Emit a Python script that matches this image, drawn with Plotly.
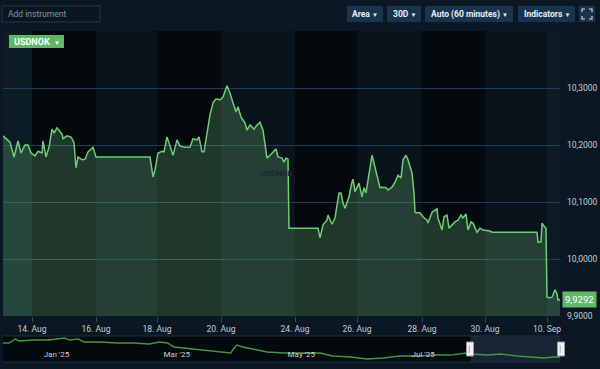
import plotly.graph_objects as go

# ---------------- data ----------------
# main series: ordinal position (hourly candles, weekends collapsed) and USDNOK price
t_main = [0, 7, 11, 15, 18, 22, 25, 28, 32, 35, 39, 40, 43, 46, 49, 51, 54, 59, 60, 64, 68, 71, 73, 75, 79, 82, 85, 90, 93,
          147, 150, 152, 155, 159, 161, 164, 165, 169, 170, 174, 177, 182, 187, 190, 194, 196, 199, 201, 204, 207, 210, 213,
          217, 220, 224, 227, 230, 233, 235, 238, 242, 244, 247, 251, 254, 257, 260, 262, 264, 267, 270, 273, 275, 279, 281,
          283, 285, 286, 315, 317, 320, 324, 325, 329, 332, 334, 336, 338, 340, 342, 346, 349, 350, 352, 354, 356, 359, 361,
          363, 365, 368, 369, 371, 374, 377, 380, 383, 385, 389, 392, 395, 398, 400, 403, 405, 409, 411, 412, 413, 417, 420,
          424, 425, 429, 432, 434, 435, 439, 441, 444, 446, 449, 452, 455, 458, 460, 463, 465, 468, 470, 474, 477, 480, 487,
          489, 534, 535, 538, 539, 541, 543, 544, 547, 549, 552, 554, 555, 557]
usdnok = [10.216, 10.205, 10.179, 10.207, 10.186, 10.200, 10.200, 10.186, 10.181, 10.189, 10.186, 10.207, 10.179, 10.196,
          10.228, 10.221, 10.230, 10.219, 10.211, 10.216, 10.214, 10.204, 10.160, 10.179, 10.174, 10.175, 10.188, 10.196,
          10.179, 10.179, 10.144, 10.156, 10.186, 10.189, 10.188, 10.214, 10.209, 10.186, 10.182, 10.209, 10.198, 10.196,
          10.196, 10.211, 10.209, 10.214, 10.188, 10.188, 10.223, 10.253, 10.274, 10.281, 10.279, 10.284, 10.304, 10.291,
          10.274, 10.258, 10.267, 10.249, 10.239, 10.226, 10.235, 10.228, 10.235, 10.240, 10.226, 10.205, 10.177, 10.182,
          10.188, 10.193, 10.179, 10.177, 10.170, 10.177, 10.175, 10.054, 10.054, 10.037, 10.060, 10.068, 10.077, 10.061,
          10.072, 10.095, 10.116, 10.116, 10.098, 10.089, 10.109, 10.135, 10.140, 10.118, 10.126, 10.133, 10.109, 10.125,
          10.116, 10.139, 10.179, 10.182, 10.168, 10.144, 10.125, 10.126, 10.125, 10.121, 10.126, 10.135, 10.147, 10.142,
          10.174, 10.182, 10.174, 10.151, 10.116, 10.082, 10.081, 10.081, 10.074, 10.068, 10.063, 10.082, 10.086, 10.088,
          10.072, 10.051, 10.074, 10.077, 10.054, 10.060, 10.065, 10.068, 10.077, 10.072, 10.079, 10.051, 10.065, 10.063,
          10.047, 10.054, 10.051, 10.049, 10.047, 10.047, 10.030, 10.030, 10.063, 10.058, 10.054, 9.933, 9.932, 9.933,
          9.946, 9.939, 9.928, 9.9292]
x_tick_pos = [29, 93, 154, 218, 292, 354, 419, 482, 544]
x_tick_labels = ["14. Aug", "16. Aug", "18. Aug", "20. Aug", "24. Aug", "26. Aug", "28. Aug", "30. Aug", "10. Sep"]
y_ticks = [9.9, 10.0, 10.1, 10.2, 10.3]

# navigator series (longer history)
nav_dates = ["2024-12-12", "2024-12-15", "2024-12-18", "2024-12-20", "2024-12-27", "2025-01-04", "2025-01-11",
             "2025-01-14", "2025-01-18", "2025-01-21", "2025-01-29", "2025-02-06", "2025-02-14", "2025-02-22",
             "2025-02-27", "2025-03-03", "2025-03-06", "2025-03-11", "2025-03-19", "2025-03-27", "2025-04-03",
             "2025-04-04", "2025-04-06", "2025-04-09", "2025-04-14", "2025-04-21", "2025-04-29", "2025-05-07",
             "2025-05-17", "2025-05-23", "2025-06-01", "2025-06-09", "2025-06-17", "2025-06-25", "2025-07-04",
             "2025-07-12", "2025-07-20", "2025-07-28", "2025-07-31", "2025-08-07", "2025-08-14", "2025-08-22",
             "2025-08-30", "2025-09-04", "2025-09-09", "2025-09-12"]
nav_values = [10.915, 10.915, 11.19, 11.05, 11.12, 11.12, 11.26, 11.12, 11.19, 10.98, 10.98, 10.915, 10.915, 10.85,
              10.98, 10.915, 10.64, 10.57, 10.43, 10.36, 10.22, 10.43, 10.78, 10.64, 10.50, 10.29, 10.22, 10.22,
              10.22, 10.015, 9.946, 9.81, 9.877, 10.015, 10.015, 10.08, 10.08, 10.22, 10.15, 10.08, 10.15, 10.015,
              9.946, 9.877, 9.946, 9.946]
nav_ticks = ["2025-01-01", "2025-03-01", "2025-05-01", "2025-07-01", "2025-09-01"]
nav_sel = ["2025-07-30", "2025-09-12"]

toolbar_buttons = ["Area", "30D", "Auto (60 minutes)", "Indicators"]

# ---------------- layout helpers ----------------
W, H = 600, 369
L, R, T, B = 3, 40, 31, 7
PW, PH = W - L - R, H - T - B


def px(x):
    return (x - L) / PW


def py(y):
    return (H - B - y) / PH


PAGE = "#0b1823"
PLOT = "#03090d"
MID = "#08131b"
EDGE = "#0b1c25"
BTN = "#19344f"
FONT = "Roboto"

fig = go.Figure()
fig.add_trace(go.Scatter(
    x=t_main, y=usdnok, mode="lines", line=dict(color="#70cc76", width=1.5),
    fill="tozeroy", fillcolor="rgba(120,200,130,0.25)", hoverinfo="skip",
    xaxis="x", yaxis="y"))
fig.add_trace(go.Scatter(
    x=nav_dates, y=nav_values, mode="lines", line=dict(color="#45944b", width=1.4),
    hoverinfo="skip", xaxis="x2", yaxis="y2"))

shapes = []
# vertical alternating bands in main plot
edges = [t_main[0]] + x_tick_pos + [t_main[-1]]
for i in range(len(edges) - 1):
    if i == 0 or i == len(edges) - 2:
        col = EDGE
    else:
        col = PLOT if i % 2 == 1 else MID
    shapes.append(dict(type="rect", xref="x", yref="y domain", x0=edges[i], x1=edges[i + 1], y0=0, y1=1,
                       fillcolor=col, line_width=0, layer="below"))

# navigator frame and selection
shapes.append(dict(type="rect", xref="x2", yref="y2 domain", x0=nav_sel[0], x1=nav_sel[1], y0=0, y1=1,
                   fillcolor="rgba(50,75,98,0.45)", line_width=0, layer="below"))
for yy in (0, 1):
    shapes.append(dict(type="line", xref="paper", yref="y2 domain", x0=0, x1=1, y0=yy, y1=yy,
                       line=dict(color="#1c3244", width=1)))
for hx in (px(470), px(561)):
    shapes.append(dict(type="rect", xref="paper", yref="paper", x0=hx - 3.5 / PW, x1=hx + 3.5 / PW,
                       y0=py(356), y1=py(342), fillcolor="#f2f2f2", line=dict(color="#999999", width=1)))
    shapes.append(dict(type="line", xref="paper", yref="paper", x0=hx - 0.8 / PW, x1=hx - 0.8 / PW,
                       y0=py(353), y1=py(345), line=dict(color="#aaaaaa", width=1)))

# toolbar: input box
shapes.append(dict(type="rect", xref="paper", yref="paper", x0=px(2), x1=px(100), y0=py(22), y1=py(6),
                   fillcolor="#0a1620", line=dict(color="#22394d", width=1)))

annotations = [
    dict(x=px(6), y=py(14), xref="paper", yref="paper", text="Add instrument", showarrow=False,
         xanchor="left", yanchor="middle", font=dict(family=FONT, size=8.5, color="#8393a2")),
]

btn_bounds = [(347, 383), (387, 421), (425, 513), (518, 575)]
for label, (x0, x1) in zip(toolbar_buttons, btn_bounds):
    shapes.append(dict(type="rect", xref="paper", yref="paper", x0=px(x0), x1=px(x1), y0=py(22), y1=py(6),
                       fillcolor=BTN, line_width=0))
    annotations.append(dict(x=px((x0 + x1) / 2), y=py(14), xref="paper", yref="paper",
                            xanchor="center", yanchor="middle",
                            text=f"<b>{label}</b> <span style='font-size:6px'>▼</span>", showarrow=False,
                            font=dict(family=FONT, size=8.5, color="#e8eef4")))

# fullscreen button
shapes.append(dict(type="rect", xref="paper", yref="paper", x0=px(579), x1=px(595), y0=py(22), y1=py(6),
                   fillcolor=BTN, line_width=0))
for (cx, cy, dx, dy) in [(582, 9, 1, 1), (592, 9, -1, 1), (582, 19, 1, -1), (592, 19, -1, -1)]:
    path = (f"M {px(cx + 3 * dx)} {py(cy)} L {px(cx)} {py(cy)} L {px(cx)} {py(cy + 3 * dy)}")
    shapes.append(dict(type="path", xref="paper", yref="paper", path=path,
                       line=dict(color="#d0d8e0", width=1.2)))

# instrument tag
shapes.append(dict(type="rect", xref="paper", yref="paper", x0=px(9), x1=px(64), y0=py(48), y1=py(35),
                   fillcolor="#5fb865", line_width=0))
annotations.append(dict(x=px(12), y=py(41.5), xref="paper", yref="paper", xanchor="left", yanchor="middle",
                        text="<b>USDNOK</b>  <span style='font-size:6px'>▼</span>", showarrow=False,
                        font=dict(family=FONT, size=9, color="#ffffff")))
# watermark
annotations.append(dict(x=px(277), y=py(173), xref="paper", yref="paper", text="<b>USDNOK</b>", showarrow=False,
                        xanchor="center", yanchor="middle",
                        font=dict(family=FONT, size=8, color="#14283a")))
# last price label
annotations.append(dict(x=1, y=usdnok[-1], xref="paper", yref="y", xanchor="left", yanchor="middle", xshift=2,
                        text=f"{usdnok[-1]:.4f}".replace(".", ","), showarrow=False, bgcolor="#62b868",
                        borderpad=2, font=dict(family=FONT, size=9.5, color="#ffffff")))

main_bottom = (H - B - 316) / PH
nav_top = (H - B - 336) / PH

fig.update_layout(
    width=W, height=H, margin=dict(l=L, r=R, t=T, b=B, pad=0, autoexpand=False),
    paper_bgcolor=PAGE, plot_bgcolor=PLOT, showlegend=False,
    font=dict(family=FONT, color="#c5cdd5", size=8.5),
    shapes=shapes, annotations=annotations,
    xaxis=dict(domain=[0, 1], anchor="y", range=[t_main[0], t_main[-1]], tickvals=x_tick_pos,
               ticktext=x_tick_labels, ticks="outside", ticklen=5, tickcolor="#2b4a63", showgrid=False,
               zeroline=False, showline=False, tickfont=dict(size=8.5, color="#c5cdd5")),
    yaxis=dict(domain=[main_bottom, 1], anchor="x", side="right",
               range=[y_ticks[0], y_ticks[0] + (316 - T) / 570.0],
               tickvals=y_ticks, ticktext=[f"{v:.4f}".replace(".", ",") for v in y_ticks],
               gridcolor="#1f3d57", gridwidth=1, zeroline=False, showline=False, ticks="",
               ticklabelstandoff=6, tickfont=dict(size=8.5, color="#c5cdd5")),
    xaxis2=dict(domain=[0, 1], anchor="y2", type="date", range=["2024-12-12", "2025-09-12"],
                tickvals=nav_ticks, tickformat="%b '%y", ticklabelposition="inside right", ticks="",
                ticklabelstandoff=-3,
                showgrid=False, zeroline=False, showline=False, tickfont=dict(size=8, color="#c8d0d8")),
    yaxis2=dict(domain=[0, nav_top], anchor="x2", range=[9.6, 11.4], visible=False, showgrid=False),
)

fig.write_html("out.html", config={"displayModeBar": False},
               post_script="document.body.style.margin='0';document.body.style.overflow='hidden';")
